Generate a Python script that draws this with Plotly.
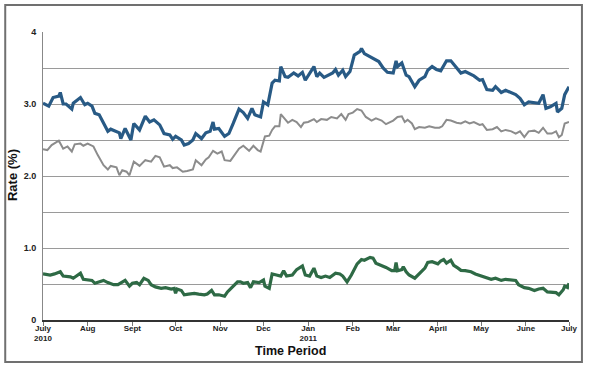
import datetime as dt
import plotly.graph_objects as go

START = dt.date(2010, 7, 1)

# Day offsets from 1 July 2010 and rates (%)
blue_days = [0, 4, 7, 11, 12, 14, 16, 20, 21, 26, 29, 31, 34, 36, 39, 42, 45, 47, 50, 53, 54, 57, 61, 63, 67, 71, 74, 77, 81, 84, 88, 90, 92, 96, 98, 101, 104, 106, 110, 113, 116, 118, 119, 122, 126, 129, 132, 136, 139, 142, 145, 147, 151, 153, 156, 159, 161, 164, 165, 168, 170, 174, 177, 180, 182, 185, 188, 190, 192, 195, 198, 201, 203, 205, 208, 210, 213, 216, 220, 221, 223, 228, 233, 236, 239, 243, 245, 246, 249, 252, 254, 258, 261, 265, 267, 270, 273, 276, 280, 283, 287, 290, 293, 296, 299, 303, 305, 308, 312, 314, 318, 321, 325, 328, 331, 334, 337, 341, 344, 347, 349, 352, 356, 357, 360, 362, 365]
blue_vals = [3.01, 2.97, 3.09, 3.11, 3.16, 3.00, 3.00, 2.93, 3.01, 3.09, 2.99, 3.01, 2.97, 2.87, 2.85, 2.73, 2.62, 2.65, 2.63, 2.60, 2.52, 2.66, 2.50, 2.73, 2.64, 2.83, 2.75, 2.78, 2.71, 2.59, 2.57, 2.51, 2.55, 2.50, 2.43, 2.45, 2.50, 2.59, 2.52, 2.60, 2.62, 2.75, 2.65, 2.66, 2.55, 2.59, 2.73, 2.93, 2.88, 2.80, 2.94, 2.85, 2.82, 3.03, 2.99, 3.29, 3.33, 3.32, 3.52, 3.38, 3.37, 3.43, 3.39, 3.44, 3.33, 3.43, 3.52, 3.38, 3.43, 3.37, 3.40, 3.43, 3.48, 3.40, 3.47, 3.38, 3.45, 3.68, 3.73, 3.77, 3.70, 3.65, 3.59, 3.50, 3.44, 3.43, 3.60, 3.52, 3.57, 3.40, 3.38, 3.24, 3.33, 3.38, 3.47, 3.52, 3.48, 3.46, 3.60, 3.60, 3.50, 3.43, 3.45, 3.42, 3.39, 3.33, 3.34, 3.20, 3.19, 3.24, 3.16, 3.19, 3.15, 3.13, 3.08, 2.99, 3.03, 3.02, 3.01, 3.13, 2.94, 2.96, 3.01, 2.89, 2.94, 3.13, 3.24]

grey_days = [0, 3, 6, 9, 11, 14, 17, 20, 22, 26, 28, 31, 35, 38, 42, 45, 47, 51, 53, 55, 58, 60, 63, 67, 71, 75, 78, 81, 84, 88, 90, 93, 97, 100, 104, 106, 110, 113, 115, 118, 120, 121, 124, 126, 130, 132, 136, 139, 143, 146, 149, 151, 154, 157, 159, 161, 164, 165, 168, 170, 173, 176, 179, 181, 184, 188, 190, 193, 197, 200, 204, 207, 210, 212, 215, 218, 221, 224, 228, 231, 235, 238, 243, 246, 249, 251, 253, 256, 258, 261, 265, 268, 272, 275, 277, 280, 283, 287, 290, 293, 296, 299, 303, 305, 308, 312, 315, 318, 321, 325, 328, 331, 334, 337, 341, 344, 347, 350, 353, 356, 358, 360, 362, 365]
grey_vals = [2.37, 2.36, 2.43, 2.46, 2.49, 2.38, 2.41, 2.34, 2.44, 2.45, 2.42, 2.45, 2.41, 2.29, 2.15, 2.09, 2.14, 2.12, 2.01, 2.08, 2.06, 2.01, 2.20, 2.14, 2.22, 2.20, 2.28, 2.26, 2.13, 2.15, 2.11, 2.12, 2.06, 2.07, 2.09, 2.22, 2.15, 2.23, 2.26, 2.35, 2.32, 2.31, 2.34, 2.22, 2.21, 2.27, 2.38, 2.42, 2.35, 2.42, 2.36, 2.34, 2.55, 2.56, 2.64, 2.69, 2.69, 2.86, 2.78, 2.74, 2.78, 2.75, 2.68, 2.74, 2.75, 2.79, 2.75, 2.79, 2.78, 2.82, 2.80, 2.86, 2.78, 2.86, 2.88, 2.93, 2.91, 2.82, 2.77, 2.80, 2.77, 2.72, 2.77, 2.82, 2.83, 2.75, 2.78, 2.73, 2.65, 2.68, 2.67, 2.69, 2.67, 2.67, 2.69, 2.78, 2.77, 2.74, 2.73, 2.76, 2.73, 2.75, 2.71, 2.72, 2.64, 2.65, 2.68, 2.62, 2.64, 2.62, 2.59, 2.62, 2.54, 2.62, 2.63, 2.60, 2.67, 2.59, 2.59, 2.62, 2.54, 2.57, 2.73, 2.75]

green_days = [0, 5, 8, 12, 14, 19, 21, 23, 26, 28, 31, 34, 36, 39, 42, 45, 49, 52, 54, 57, 60, 62, 65, 67, 70, 73, 75, 78, 82, 85, 89, 91, 92, 93, 96, 98, 101, 105, 108, 112, 114, 117, 119, 122, 126, 128, 131, 135, 137, 139, 142, 144, 146, 150, 153, 154, 157, 159, 162, 165, 167, 169, 173, 176, 180, 182, 185, 188, 190, 193, 196, 199, 203, 206, 208, 211, 214, 218, 221, 223, 227, 229, 231, 235, 238, 242, 244, 245, 246, 249, 250, 252, 254, 258, 261, 265, 267, 270, 274, 276, 278, 280, 283, 285, 288, 290, 293, 297, 300, 304, 307, 311, 314, 318, 321, 325, 328, 330, 334, 337, 341, 344, 347, 350, 353, 356, 358, 361, 362, 364, 365]
green_vals = [0.64, 0.625, 0.64, 0.67, 0.61, 0.60, 0.58, 0.61, 0.65, 0.565, 0.555, 0.55, 0.51, 0.53, 0.55, 0.52, 0.49, 0.49, 0.51, 0.55, 0.47, 0.51, 0.52, 0.49, 0.58, 0.55, 0.49, 0.46, 0.44, 0.45, 0.43, 0.44, 0.37, 0.43, 0.41, 0.35, 0.36, 0.37, 0.36, 0.35, 0.36, 0.41, 0.35, 0.35, 0.33, 0.39, 0.45, 0.53, 0.53, 0.51, 0.52, 0.45, 0.53, 0.52, 0.555, 0.47, 0.44, 0.64, 0.625, 0.61, 0.685, 0.61, 0.625, 0.70, 0.75, 0.625, 0.61, 0.72, 0.61, 0.59, 0.61, 0.59, 0.65, 0.64, 0.61, 0.53, 0.625, 0.78, 0.84, 0.83, 0.87, 0.86, 0.79, 0.76, 0.73, 0.685, 0.685, 0.80, 0.685, 0.70, 0.74, 0.67, 0.625, 0.58, 0.64, 0.72, 0.80, 0.81, 0.78, 0.82, 0.84, 0.79, 0.83, 0.76, 0.72, 0.69, 0.685, 0.67, 0.64, 0.61, 0.59, 0.565, 0.58, 0.55, 0.565, 0.555, 0.55, 0.49, 0.45, 0.44, 0.41, 0.43, 0.44, 0.39, 0.38, 0.38, 0.35, 0.42, 0.47, 0.45, 0.51]

tick_dates = ["2010-07-01", "2010-08-01", "2010-09-01", "2010-10-01", "2010-11-01", "2010-12-01",
              "2011-01-01", "2011-02-01", "2011-03-01", "2011-04-01", "2011-05-01", "2011-06-01", "2011-07-01"]
tick_labels = ["July<br>2010", "Aug", "Sept", "Oct", "Nov", "Dec", "Jan<br>2011", "Feb", "Mar",
               "April", "May", "June", "July"]

y_tickvals = [0, 0.5, 1, 1.5, 2, 2.5, 3, 3.5, 4]
y_ticktext = ["0", "", "1.0", "", "2.0", "", "3.0", "", "4"]


def to_dates(days):
    return [START + dt.timedelta(days=d) for d in days]


FONT = "Liberation Sans, Arial, sans-serif"

fig = go.Figure()
fig.add_trace(go.Scatter(x=to_dates(grey_days), y=grey_vals, mode="lines",
                         line=dict(color="#8c8c8c", width=2), hoverinfo="skip"))
fig.add_trace(go.Scatter(x=to_dates(blue_days), y=blue_vals, mode="lines",
                         line=dict(color="#285a85", width=3.2), hoverinfo="skip"))
fig.add_trace(go.Scatter(x=to_dates(green_days), y=green_vals, mode="lines",
                         line=dict(color="#2e6a45", width=3.2), hoverinfo="skip"))

fig.update_layout(
    width=590, height=370,
    margin=dict(l=43, r=18, t=32, b=50),
    paper_bgcolor="white", plot_bgcolor="white",
    showlegend=False,
    font=dict(family=FONT, color="#222222"),
    xaxis=dict(
        type="date",
        range=["2010-07-01", "2011-07-01"],
        tickmode="array", tickvals=tick_dates, ticktext=tick_labels,
        ticks="outside", ticklen=4, tickcolor="#777777", tickwidth=1,
        ticklabelstandoff=-5,
        tickfont=dict(size=8, family=FONT, weight="bold", color="#222222"),
        showgrid=False, zeroline=False,
        showline=True, linecolor="#333333", linewidth=2,
        tickangle=0,
    ),
    yaxis=dict(
        range=[0, 4],
        tickmode="array", tickvals=y_tickvals, ticktext=y_ticktext,
        ticks="", ticklabelstandoff=4,
        tickfont=dict(size=9, family=FONT, weight="bold", color="#222222"),
        showgrid=True, gridcolor="#9a9a9a", gridwidth=1,
        zeroline=False,
        showline=True, linecolor="#888888", linewidth=1,
    ),
    annotations=[
        dict(text="Time Period", xref="paper", yref="paper", x=0.4707, y=-0.108,
             xanchor="center", yanchor="middle", showarrow=False,
             font=dict(size=12.5, family=FONT, weight="bold", color="#111111")),
        dict(text="Rate (%)", xref="paper", yref="paper", x=-0.0567, y=0.504,
             xanchor="center", yanchor="middle", showarrow=False, textangle=-90,
             font=dict(size=13, family=FONT, weight="bold", color="#111111")),
    ],
    shapes=[
        dict(type="rect", xref="paper", yref="paper",
             x0=-0.0718, x1=1.0246, y0=-0.1458, y1=1.0938,
             line=dict(color="#707070", width=2), fillcolor="rgba(0,0,0,0)", layer="below"),
    ],
)

fig.write_html("out.html", config={"displayModeBar": False},
               post_script="document.body.style.margin='0';")
